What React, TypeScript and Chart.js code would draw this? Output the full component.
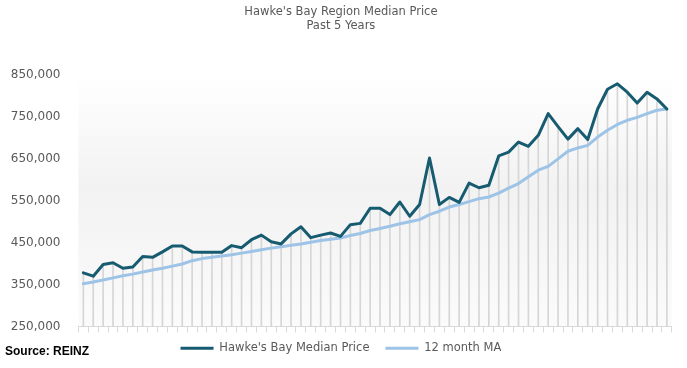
import React, { useEffect, useRef } from 'react';
import Chart from 'chart.js/auto';

const months: string[] = [
  'May 2017', 'Jun 2017', 'Jul 2017', 'Aug 2017', 'Sep 2017', 'Oct 2017', 'Nov 2017', 'Dec 2017',
  'Jan 2018', 'Feb 2018', 'Mar 2018', 'Apr 2018', 'May 2018', 'Jun 2018', 'Jul 2018', 'Aug 2018',
  'Sep 2018', 'Oct 2018', 'Nov 2018', 'Dec 2018', 'Jan 2019', 'Feb 2019', 'Mar 2019', 'Apr 2019',
  'May 2019', 'Jun 2019', 'Jul 2019', 'Aug 2019', 'Sep 2019', 'Oct 2019', 'Nov 2019', 'Dec 2019',
  'Jan 2020', 'Feb 2020', 'Mar 2020', 'Apr 2020', 'May 2020', 'Jun 2020', 'Jul 2020', 'Aug 2020',
  'Sep 2020', 'Oct 2020', 'Nov 2020', 'Dec 2020', 'Jan 2021', 'Feb 2021', 'Mar 2021', 'Apr 2021',
  'May 2021', 'Jun 2021', 'Jul 2021', 'Aug 2021', 'Sep 2021', 'Oct 2021', 'Nov 2021', 'Dec 2021',
  'Jan 2022', 'Feb 2022', 'Mar 2022', 'Apr 2022',
];

const medianPrice: number[] = [
  378000, 370000, 398000, 402000, 389000, 392000, 417000, 415000, 428000, 442000,
  442000, 428000, 427000, 427000, 427000, 443000, 438000, 457000, 468000, 452000,
  447000, 471000, 488000, 462000, 468000, 473000, 465000, 493000, 496000, 532000,
  532000, 517000, 547000, 513000, 541000, 652000, 541000, 558000, 546000, 592000,
  581000, 587000, 657000, 666000, 690000, 680000, 706000, 758000, 727000, 697000,
  722000, 696000, 769000, 816000, 829000, 809000, 783000, 809000, 793000, 769000,
];

const movingAverage: number[] = [
  352000, 356000, 361000, 366000, 371000, 375000, 380000, 385000, 389000, 394000,
  399000, 407000, 412000, 415000, 418000, 421000, 425000, 429000, 433000, 437000,
  440000, 444000, 447000, 451000, 455000, 458000, 461000, 467000, 472000, 479000,
  484000, 489000, 495000, 500000, 505000, 517000, 525000, 535000, 541000, 548000,
  555000, 559000, 568000, 580000, 591000, 607000, 623000, 632000, 650000, 668000,
  676000, 682000, 702000, 718000, 732000, 742000, 749000, 758000, 766000, 769000,
];

const yTicks: number[] = [250000, 350000, 450000, 550000, 650000, 750000, 850000];

const titleLines: string[] = ["Hawke's Bay Region Median Price", 'Past 5 Years'];
const seriesNames: string[] = ["Hawke's Bay Median Price", '12 month MA'];
const sourceText = 'Source: REINZ';

const FONT = "'DejaVu Sans', sans-serif";
const TEXT_GREY = '#595959';

const plotBackground = {
  id: 'plotBackground',
  beforeDraw(chart: any) {
    const { ctx, chartArea } = chart;
    if (!chartArea) return;
    const { left, top, right, bottom } = chartArea;
    const g = ctx.createLinearGradient(0, top, 0, bottom);
    g.addColorStop(0, '#ffffff');
    g.addColorStop(0.45, '#f2f2f2');
    g.addColorStop(1, '#fbfbfb');
    ctx.save();
    ctx.fillStyle = g;
    ctx.fillRect(left, top, right - left, bottom - top);
    ctx.restore();
  },
};

export default function App() {
  const canvasRef = useRef<HTMLCanvasElement | null>(null);

  useEffect(() => {
    if (!canvasRef.current) return;
    Chart.defaults.font.family = FONT;
    const chart = new Chart(canvasRef.current, {
      type: 'line',
      data: {
        labels: months,
        datasets: [
          {
            type: 'line',
            label: seriesNames[0],
            data: medianPrice,
            borderColor: '#175b70',
            backgroundColor: '#175b70',
            borderWidth: 3,
            pointRadius: 0,
            tension: 0,
            borderJoinStyle: 'round',
            borderCapStyle: 'round',
            order: 1,
          },
          {
            type: 'line',
            label: seriesNames[1],
            data: movingAverage,
            borderColor: '#9dc3e6',
            backgroundColor: '#9dc3e6',
            borderWidth: 3,
            pointRadius: 0,
            tension: 0,
            borderJoinStyle: 'round',
            borderCapStyle: 'round',
            order: 2,
          },
          {
            type: 'bar',
            label: 'drop',
            data: medianPrice,
            backgroundColor: '#d6d6d6',
            barThickness: 1,
            order: 3,
          } as any,
        ],
      },
      options: {
        responsive: false,
        animation: false,
        layout: { padding: { left: 10, right: 15.2, top: 0, bottom: 4 } },
        plugins: {
          tooltip: { enabled: false },
          title: {
            display: true,
            text: titleLines,
            color: TEXT_GREY,
            font: { family: FONT, size: 11.5, weight: 'normal', lineHeight: 1.2 },
            padding: { top: 5, bottom: 42.4 },
          },
          legend: {
            display: true,
            position: 'bottom',
            labels: {
              filter: (item: any) => item.datasetIndex !== 2,
              usePointStyle: true,
              pointStyle: 'line',
              pointStyleWidth: 33,
              color: TEXT_GREY,
              font: { family: FONT, size: 11.5 },
              padding: 16,
            },
          },
        },
        scales: {
          x: {
            type: 'category',
            offset: true,
            grid: {
              display: true,
              drawOnChartArea: false,
              drawTicks: true,
              tickLength: 6,
              color: '#d9d9d9',
              offset: true,
            },
            border: { display: true, color: '#d9d9d9' },
            ticks: { display: false },
            afterFit: (s: any) => {
              s.height = 0;
            },
          },
          y: {
            min: yTicks[0],
            max: yTicks[yTicks.length - 1],
            afterBuildTicks: (s: any) => {
              s.ticks = yTicks.map((v) => ({ value: v }));
            },
            ticks: {
              color: TEXT_GREY,
              font: { family: FONT, size: 12 },
              padding: 10,
              callback: (v: any) => Number(v).toLocaleString('en-US'),
            },
            grid: { display: false },
            border: { display: false },
            afterFit: (s: any) => {
              s.width = 68.4;
            },
          },
        },
      },
      plugins: [plotBackground],
    } as any);
    return () => chart.destroy();
  }, []);

  return (
    <div style={{ position: 'absolute', left: 0, top: 0, width: 687, height: 368, background: '#ffffff' }}>
      <canvas ref={canvasRef} width={687} height={368} style={{ display: 'block' }} />
      <div
        style={{
          position: 'absolute',
          left: 5,
          top: 344,
          fontFamily: "'Liberation Sans', Arial, sans-serif",
          fontWeight: 'bold',
          fontSize: 12,
          lineHeight: '14px',
          color: '#000000',
          whiteSpace: 'nowrap',
        }}
      >
        {sourceText}
      </div>
    </div>
  );
}
